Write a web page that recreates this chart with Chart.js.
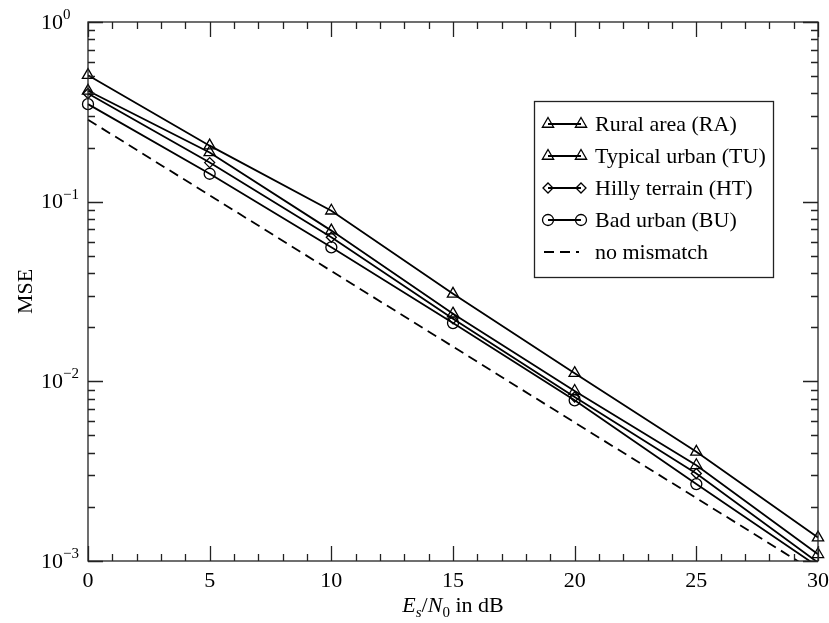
<!DOCTYPE html>
<html>
<head>
<meta charset="utf-8">
<script src="https://cdn.jsdelivr.net/npm/chart.js@4/dist/chart.umd.min.js"></script>
<style>
  html, body { margin: 0; padding: 0; background: #fff; }
  #wrap { width: 829px; height: 623px; }
</style>
</head>
<body>
<div id="wrap"><canvas id="chart" width="829" height="623"></canvas></div>
<script>
/* MSE vs Es/N0 for the four channel profiles */
var snrDb = [0, 5, 10, 15, 20, 25, 30];
var mseRA = [0.506, 0.205, 0.089, 0.0307, 0.0111, 0.00405, 0.00135];
var mseTU = [0.414, 0.188, 0.069, 0.0238, 0.00883, 0.00341, 0.00109];
var mseHT = [0.40, 0.165, 0.0634, 0.0223, 0.00818, 0.00307, 0.00098];
var mseBU = [0.349, 0.143, 0.0557, 0.0211, 0.00784, 0.00268, 0.00093];
var mseRef = [0.286, 0.1085, 0.0411, 0.0156, 0.0059, 0.00224, 0.00085];

var xTickLabels = [0, 5, 10, 15, 20, 25, 30];
var yTickExps = [0, -1, -2, -3];

var FONT = '"Liberation Serif", "Times New Roman", serif';
var INK = '#000';
var X_MIN = 0, X_MAX = 30, Y_MIN = 1e-3, Y_MAX = 1;

function pts(ys) {
  return snrDb.map(function (x, i) { return { x: x, y: ys[i] }; });
}

// hide markers that fall below the axis (they are clipped in the original)
function radiusFor(r) {
  return function (ctx) {
    var v = ctx.parsed && ctx.parsed.y;
    return (v != null && v < Y_MIN) ? 0 : r;
  };
}

function series(label, ys, style, r) {
  return {
    label: label,
    data: pts(ys),
    borderColor: INK,
    backgroundColor: 'transparent',
    borderWidth: 1.8,
    pointStyle: style,
    pointRadius: radiusFor(r),
    pointBorderWidth: 1.3,
    pointBorderColor: INK,
    pointBackgroundColor: 'transparent',
    tension: 0,
    clip: { left: 10, right: 10, top: 10, bottom: 0 }
  };
}

var datasets = [
  series('Rural area (RA)', mseRA, 'triangle', 6.5),
  series('Typical urban (TU)', mseTU, 'triangle', 6.5),
  series('Hilly terrain (HT)', mseHT, 'rectRot', 5),
  series('Bad urban (BU)', mseBU, 'circle', 5.5),
  {
    label: 'no mismatch',
    data: pts(mseRef),
    borderColor: INK,
    borderWidth: 1.8,
    borderDash: [10, 6],
    pointRadius: 0,
    pointStyle: false,
    tension: 0,
    clip: { left: 10, right: 10, top: 10, bottom: 0 }
  }
];

/* --- frame, inward ticks, labels, titles --- */
var framePlugin = {
  id: 'frame',
  afterDatasetsDraw: function (chart) {
    var ctx = chart.ctx, a = chart.chartArea;
    var xs = chart.scales.x, ys = chart.scales.y;
    ctx.save();
    ctx.strokeStyle = '#222';
    ctx.lineWidth = 1.3;
    ctx.strokeRect(a.left, a.top, a.right - a.left, a.bottom - a.top);

    ctx.beginPath();
    for (var v = X_MIN; v <= X_MAX; v++) {
      var px = Math.round(xs.getPixelForValue(v)) + 0.5;
      var len = (v % 5 === 0) ? 15 : 7;
      ctx.moveTo(px, a.bottom); ctx.lineTo(px, a.bottom - len);
      ctx.moveTo(px, a.top); ctx.lineTo(px, a.top + len);
    }
    for (var d = -3; d <= 0; d++) {
      for (var m = 1; m <= 9; m++) {
        if (d === 0 && m > 1) break;
        var py = Math.round(ys.getPixelForValue(m * Math.pow(10, d))) + 0.5;
        var l = (m === 1) ? 15 : 7;
        ctx.moveTo(a.left, py); ctx.lineTo(a.left + l, py);
        ctx.moveTo(a.right, py); ctx.lineTo(a.right - l, py);
      }
    }
    ctx.stroke();

    ctx.fillStyle = INK;
    // x tick labels
    ctx.font = '22px ' + FONT;
    ctx.textAlign = 'center';
    ctx.textBaseline = 'top';
    xTickLabels.forEach(function (t) {
      ctx.fillText(String(t), xs.getPixelForValue(t), a.bottom + 9);
    });

    // y tick labels 10^n
    ctx.textAlign = 'left';
    ctx.textBaseline = 'middle';
    yTickExps.forEach(function (e) {
      var py = ys.getPixelForValue(Math.pow(10, e));
      ctx.font = '22px ' + FONT;
      ctx.fillText('10', 41, py + 1);
      var w = ctx.measureText('10').width;
      ctx.font = '15px ' + FONT;
      ctx.fillText(e === 0 ? '0' : '\u2212' + Math.abs(e), 41 + w, py - 7);
    });

    // y title
    ctx.save();
    ctx.translate(26, (a.top + a.bottom) / 2);
    ctx.rotate(-Math.PI / 2);
    ctx.textAlign = 'center';
    ctx.textBaseline = 'middle';
    ctx.font = '22px ' + FONT;
    ctx.fillText('MSE', 0, 0);
    ctx.restore();

    // x title: Es/N0 in dB
    var parts = [
      { t: 'E', f: 'italic 22px ', dy: 0 },
      { t: 's', f: 'italic 15px ', dy: 5 },
      { t: '/', f: '22px ', dy: 0 },
      { t: 'N', f: 'italic 22px ', dy: 0 },
      { t: '0', f: '15px ', dy: 5 },
      { t: ' in dB', f: '22px ', dy: 0 }
    ];
    var total = 0;
    parts.forEach(function (p) { ctx.font = p.f + FONT; p.w = ctx.measureText(p.t).width; total += p.w; });
    var cx = (a.left + a.right) / 2 - total / 2;
    var base = 612;
    ctx.textBaseline = 'alphabetic';
    parts.forEach(function (p) {
      ctx.font = p.f + FONT;
      ctx.fillText(p.t, cx, base + p.dy);
      cx += p.w;
    });
    ctx.restore();
  }
};

/* --- boxed legend with a marker at both ends of each sample line --- */
var legendPlugin = {
  id: 'boxLegend',
  afterDraw: function (chart) {
    var ctx = chart.ctx;
    var box = { x: 534, y: 101, w: 239, h: 176 };
    var rowY0 = 124, rowGap = 32;
    ctx.save();
    ctx.fillStyle = '#fff';
    ctx.fillRect(box.x, box.y, box.w, box.h);
    ctx.strokeStyle = '#222';
    ctx.lineWidth = 1.3;
    ctx.strokeRect(box.x + 0.5, box.y + 0.5, box.w, box.h);

    chart.data.datasets.forEach(function (ds, i) {
      var y = rowY0 + i * rowGap;
      var x1 = 548, x2 = 581;
      ctx.strokeStyle = INK;
      ctx.lineWidth = ds.borderWidth;
      ctx.setLineDash(ds.borderDash || []);
      ctx.beginPath();
      if (ds.borderDash) { ctx.moveTo(x1 - 4, y); ctx.lineTo(x2 - 2, y); }
      else { ctx.moveTo(x1, y); ctx.lineTo(x2, y); }
      ctx.stroke();
      ctx.setLineDash([]);
      if (ds.pointStyle) {
        var r = ds.pointRadius({ parsed: { y: 1 } });
        ctx.lineWidth = ds.pointBorderWidth;
        ctx.fillStyle = 'rgba(0,0,0,0)';
        [x1, x2].forEach(function (px) {
          Chart.helpers.drawPoint(ctx, { pointStyle: ds.pointStyle, radius: r, rotation: 0, borderWidth: ds.pointBorderWidth }, px, y);
        });
      }
      ctx.fillStyle = INK;
      ctx.font = '22px ' + FONT;
      ctx.textAlign = 'left';
      ctx.textBaseline = 'middle';
      ctx.fillText(ds.label, 595, y + 1);
    });
    ctx.restore();
  }
};

new Chart(document.getElementById('chart'), {
  type: 'line',
  data: { datasets: datasets },
  options: {
    responsive: false,
    animation: false,
    layout: { padding: { left: 88, top: 22, right: 11, bottom: 62 } },
    plugins: { legend: { display: false }, tooltip: { enabled: false } },
    scales: {
      x: { type: 'linear', min: X_MIN, max: X_MAX, display: false },
      y: { type: 'logarithmic', min: Y_MIN, max: Y_MAX, display: false }
    }
  },
  plugins: [framePlugin, legendPlugin]
});
</script>
</body>
</html>
